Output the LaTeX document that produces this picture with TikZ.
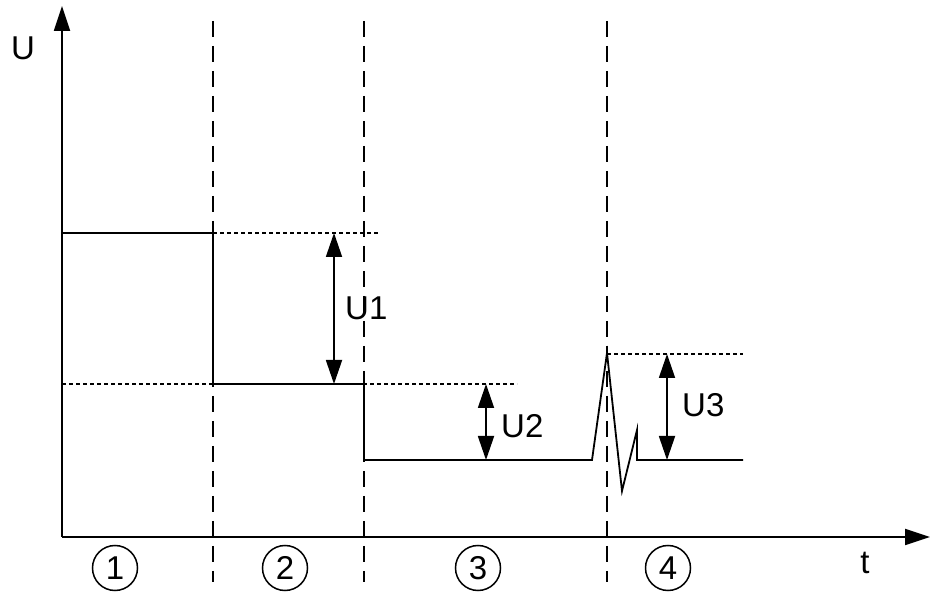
\documentclass[tikz,border=0pt]{standalone}
\usepackage{fontspec}
\setmainfont{Liberation Sans}
\usetikzlibrary{arrows.meta}
\begin{document}
\begin{tikzpicture}[x=1pt,y=-1pt,
  axis/.style={line width=1.8pt,-{Triangle[length=25pt,width=16pt]}},
  sig/.style={line width=1.8pt,line join=miter},
  sep/.style={line width=1.8pt,dash pattern=on 16pt off 9pt},
  ref/.style={line width=1.2pt,dash pattern=on 4pt off 3pt},
  meas/.style={line width=1.8pt,{Triangle[length=24pt,width=16pt]}-{Triangle[length=24pt,width=16pt]}},
  lbl/.style={font=\fontsize{33}{36}\selectfont,inner sep=0pt},
  phase/.style={circle,draw,line width=1.5pt,minimum size=45pt,inner sep=0pt,font=\fontsize{33}{36}\selectfont}]
\useasboundingbox (0,0) rectangle (930,593);
% coordinates
\coordinate (O) at (62,537);
\coordinate (Ytop) at (62,6);
\coordinate (Xend) at (930,537);
% separators
\draw[sep] (213,21) -- (213,582);
\draw[sep] (364,21) -- (364,582);
\draw[sep] (607,21) -- (607,582);
% reference dotted lines
\coordinate (a1) at (213,233); \coordinate (a2) at (380,233);
\coordinate (b1) at (62,384); \coordinate (b2) at (517,384);
\coordinate (c1) at (607,354); \coordinate (c2) at (743,354);
\draw[ref] (a1) -- (a2);
\draw[ref] (b1) -- (b2);
\draw[ref] (c1) -- (c2);
% signal
\draw[sig] (62,233) -- (213,233) -- (213,384) -- (364,384) -- (364,460) -- (592,460)
  -- (607,353) -- (622,491) -- (637,430) -- (637,460) -- (743,460);
% axes
\draw[axis] (O) -- (Ytop);
\draw[axis] (O) -- (Xend);
% measurement arrows
\coordinate (m1t) at (334,233); \coordinate (m1b) at (334,384);
\coordinate (m2t) at (486,384); \coordinate (m2b) at (486,460);
\coordinate (m3t) at (667,354); \coordinate (m3b) at (667,460);
\draw[meas] (m1t) -- (m1b);
\draw[meas] (m2t) -- (m2b);
\draw[meas] (m3t) -- (m3b);
% labels
\node[lbl] (U) at (23,48) {U};
\node[lbl] (t) at (865,563) {t};
\node[lbl,anchor=west] (U1) at (345,308) {U1};
\node[lbl,anchor=west] (U2) at (501,426) {U2};
\node[lbl,anchor=west] (U3) at (682,405) {U3};
\node[phase] (p1) at (115,568) {1};
\node[phase] (p2) at (285,568) {2};
\node[phase] (p3) at (478,568) {3};
\node[phase] (p4) at (668,568) {4};
\end{tikzpicture}
\end{document}
